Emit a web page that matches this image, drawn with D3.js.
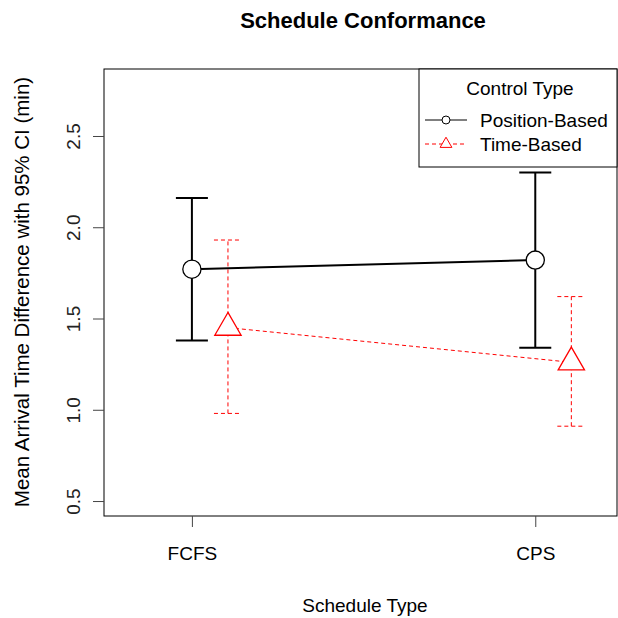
<!DOCTYPE html>
<html><head><meta charset="utf-8">
<script src="https://cdn.jsdelivr.net/npm/d3@7"></script>
<style>body{margin:0;background:#fff}text{font-family:Arial,"Liberation Sans",sans-serif}</style>
</head><body><svg width="618" height="618"></svg>
<script>
const categories = ["FCFS", "CPS"];
const seriesNames = ["Position-Based", "Time-Based"];
const posMean = [1.77, 1.82], posLo = [1.38, 1.34], posHi = [2.16, 2.30];
const timeMean = [1.45, 1.26], timeLo = [0.98, 0.91], timeHi = [1.93, 1.62];
const yTicks = [0.5, 1.0, 1.5, 2.0, 2.5];

const svg = d3.select("svg");
const pLeft = 104, pRight = 617, pTop = 69, pBottom = 516;
const x = d3.scaleLinear().domain([0.744, 2.238]).range([pLeft, pRight]);
const y = d3.scaleLinear().domain([0.418, 2.867]).range([pBottom, pTop]);
const offset = 0.105;

svg.append("rect").attr("x", pLeft).attr("y", pTop).attr("width", pRight - pLeft).attr("height", pBottom - pTop)
  .attr("fill", "none").attr("stroke", "#000");

const yAxis = svg.append("g").attr("transform", `translate(${pLeft},0)`)
  .call(d3.axisLeft(y).tickValues(yTicks).tickFormat(d3.format(".1f")).tickSize(11));
yAxis.select(".domain").remove();
yAxis.selectAll("line").attr("stroke", "#444");
yAxis.selectAll("text").attr("x", 0).attr("dy", 0).attr("transform", "translate(-24,0) rotate(-90)")
  .attr("text-anchor", "middle").attr("font-size", 19).attr("fill", "#222");

const xAxis = svg.append("g").attr("transform", `translate(0,${pBottom})`)
  .call(d3.axisBottom(d3.scalePoint().domain(categories).range([x(1), x(2)])).tickSize(11).tickPadding(20));
xAxis.select(".domain").remove();
xAxis.selectAll("line").attr("stroke", "#444");
xAxis.selectAll("text").attr("font-size", 19).attr("fill", "#000");

svg.append("text").attr("x", 363).attr("y", 28).attr("text-anchor", "middle").attr("font-weight", "bold")
  .attr("font-size", 22).text("Schedule Conformance");
svg.append("text").attr("x", 365).attr("y", 612).attr("text-anchor", "middle").attr("font-size", 19).text("Schedule Type");
svg.append("text").attr("transform", "translate(29,292) rotate(-90)").attr("text-anchor", "middle")
  .attr("font-size", 20.5).text("Mean Arrival Time Difference with 95% CI (min)");

const series = [
  {mean: posMean, lo: posLo, hi: posHi, off: 0, color: "#000", dash: null, w: 2, cap: 16, sym: "circle"},
  {mean: timeMean, lo: timeLo, hi: timeHi, off: offset, color: "#f00", dash: "4,3", w: 1, cap: 14, sym: "triangle"}
];
series.forEach(s => {
  const g = svg.append("g");
  const ln = d3.line().x((d, i) => x(i + 1 + s.off)).y(d => y(d));
  g.append("path").attr("d", ln(s.mean)).attr("fill", "none").attr("stroke", s.color)
    .attr("stroke-width", s.w).attr("stroke-dasharray", s.dash);
  s.mean.forEach((m, i) => {
    const cx = x(i + 1 + s.off);
    const eb = [[cx, y(s.lo[i]), cx, y(s.hi[i])], [cx - s.cap, y(s.lo[i]), cx + s.cap, y(s.lo[i])],
                [cx - s.cap, y(s.hi[i]), cx + s.cap, y(s.hi[i])]];
    eb.forEach(e => g.append("line").attr("x1", e[0]).attr("y1", e[1]).attr("x2", e[2]).attr("y2", e[3])
      .attr("stroke", s.color).attr("stroke-width", s.w).attr("stroke-dasharray", s.dash));
    const sym = s.sym === "circle" ? d3.symbolCircle : d3.symbolTriangle;
    g.append("path").attr("d", d3.symbol(sym, s.sym === "circle" ? 260 : 300)())
      .attr("transform", `translate(${cx},${y(m)})`).attr("fill", "#fff").attr("stroke", s.color).attr("stroke-width", 1.3);
  });
});

// legend
const lg = svg.append("g");
lg.append("rect").attr("x", 419).attr("y", pTop).attr("width", pRight - 419).attr("height", 98)
  .attr("fill", "#fff").attr("stroke", "#000");
lg.append("text").attr("x", 520).attr("y", 95).attr("text-anchor", "middle").attr("font-size", 19).text("Control Type");
series.forEach((s, i) => {
  const ly = 120 + i * 24;
  lg.append("line").attr("x1", 425).attr("x2", 467).attr("y1", ly).attr("y2", ly)
    .attr("stroke", s.color).attr("stroke-dasharray", s.dash);
  const sym = s.sym === "circle" ? d3.symbolCircle : d3.symbolTriangle;
  lg.append("path").attr("d", d3.symbol(sym, s.sym === "circle" ? 50 : 60)())
    .attr("transform", `translate(446,${ly})`).attr("fill", "#fff").attr("stroke", s.color);
  lg.append("text").attr("x", 480).attr("y", ly + 7).attr("font-size", 19).text(seriesNames[i]);
});
</script></body></html>
